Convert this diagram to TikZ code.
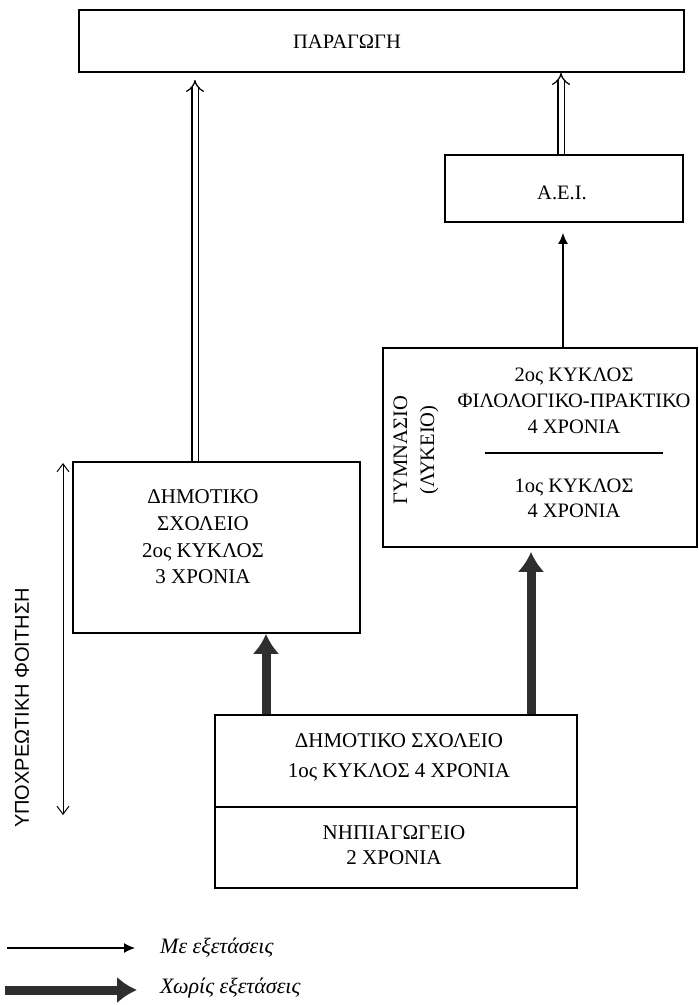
\documentclass[tikz,border=0pt]{standalone}
\usepackage{fontspec}
\setmainfont{Liberation Serif}
\setsansfont{Liberation Sans}
\usetikzlibrary{arrows.meta}

\begin{document}
\begin{tikzpicture}[x=1pt, y=-1pt,
  box/.style={draw, line width=1.8pt, inner sep=0pt},
  txt/.style={align=center, inner sep=0pt, font=\fontsize{20.5}{26}\selectfont},
  dbl/.style={double, double distance=5pt, line width=1.3pt, -{Implies}},
  thk/.style={line width=9pt, black!82, -{Latex[length=20pt,width=27pt]}},
  thn/.style={line width=1.3pt, -{Latex[length=11pt,width=10pt]}}]

\useasboundingbox (0,0) rectangle (699,1005);

\node[box, minimum width=605pt, minimum height=62pt] (prod) at (381.5,41) {};
\node[txt] (prodlbl) at (347,42) {ΠΑΡΑΓΩΓΗ};
\node[box, minimum width=238pt, minimum height=67pt] (aei) at (564,188.5) {};
\node[txt] (aeilbl) at (562,193) {Α.Ε.Ι.};

\node[box, minimum width=314pt, minimum height=199pt] (gym) at (540,447.5) {};
\node[txt, rotate=90, font=\fontsize{20.5}{27}\selectfont] (gymlbl) at (416,450) {ΓΥΜΝΑΣΙΟ\\(ΛΥΚΕΙΟ)};
\node[txt] (kyk2) at (574,401) {2ος ΚΥΚΛΟΣ\\ΦΙΛΟΛΟΓΙΚΟ-ΠΡΑΚΤΙΚΟ\\4 ΧΡΟΝΙΑ};
\node[txt, font=\fontsize{20.5}{25}\selectfont] (kyk1) at (574,498) {1ος ΚΥΚΛΟΣ\\4 ΧΡΟΝΙΑ};
\draw[line width=1.4pt] (485,453) -- (663,453);

\node[box, minimum width=287pt, minimum height=171pt] (dim2) at (216.5,547.5) {};
\node[txt, font=\fontsize{21}{26.7}\selectfont] (dim2lbl) at (203,537) {ΔΗΜΟΤΙΚΟ\\ΣΧΟΛΕΙΟ\\2ος ΚΥΚΛΟΣ\\3 ΧΡΟΝΙΑ};

\node[box, minimum width=362pt, minimum height=92pt] (dim1) at (396,761) {};
\node[txt, font=\fontsize{21}{30}\selectfont] (dim1lbl) at (399,757) {ΔΗΜΟΤΙΚΟ ΣΧΟΛΕΙΟ\\1ος ΚΥΚΛΟΣ 4 ΧΡΟΝΙΑ};
\node[box, minimum width=362pt, minimum height=81pt] (nip) at (396,847.5) {};
\node[txt, font=\fontsize{21}{25}\selectfont] (niplbl) at (394,845) {ΝΗΠΙΑΓΩΓΕΙΟ\\2 ΧΡΟΝΙΑ};

\draw[dbl, shorten >=7pt] ([xshift=-21.5pt]dim2.north) -- ([xshift=-21.5pt]dim2.north |- prod.south);
\draw[dbl] ([xshift=-3pt]aei.north) -- ([xshift=-3pt]aei.north |- prod.south);
\draw[thn, shorten >=10pt] ([xshift=23pt]gym.north) -- ([xshift=23pt]gym.north |- aei.south);
\draw[thk] ([xshift=-130pt]dim1.north) -- ([xshift=-130pt]dim1.north |- dim2.south);
\draw[thk, shorten >=4pt] ([xshift=135pt]dim1.north) -- ([xshift=135pt]dim1.north |- gym.south);

\coordinate (obltop) at (63,463);
\coordinate (oblbot) at (63,815);
\draw[line width=1pt, {Straight Barb[length=8pt,width=12pt]}-{Straight Barb[length=8pt,width=12pt]}] (obltop) -- (oblbot);
\node[rotate=90, inner sep=0pt, font=\sffamily\fontsize{20}{24}\selectfont] (obllbl) at (22,708) {ΥΠΟΧΡΕΩΤΙΚΗ ΦΟΙΤΗΣΗ};

% legend
\coordinate (le1a) at (7,948);
\coordinate (le1b) at (135,948);
\draw[thn] (le1a) -- (le1b);
\node[txt, anchor=west, font=\itshape\fontsize{22}{26}\selectfont] (le1lbl) at (160,948) {Με εξετάσεις};
\coordinate (le2a) at (5,990);
\coordinate (le2b) at (137,990);
\draw[thk] (le2a) -- (le2b);
\node[txt, anchor=west, font=\itshape\fontsize{22}{26}\selectfont] (le2lbl) at (160,988) {Χωρίς εξετάσεις};
\end{tikzpicture}
\end{document}
